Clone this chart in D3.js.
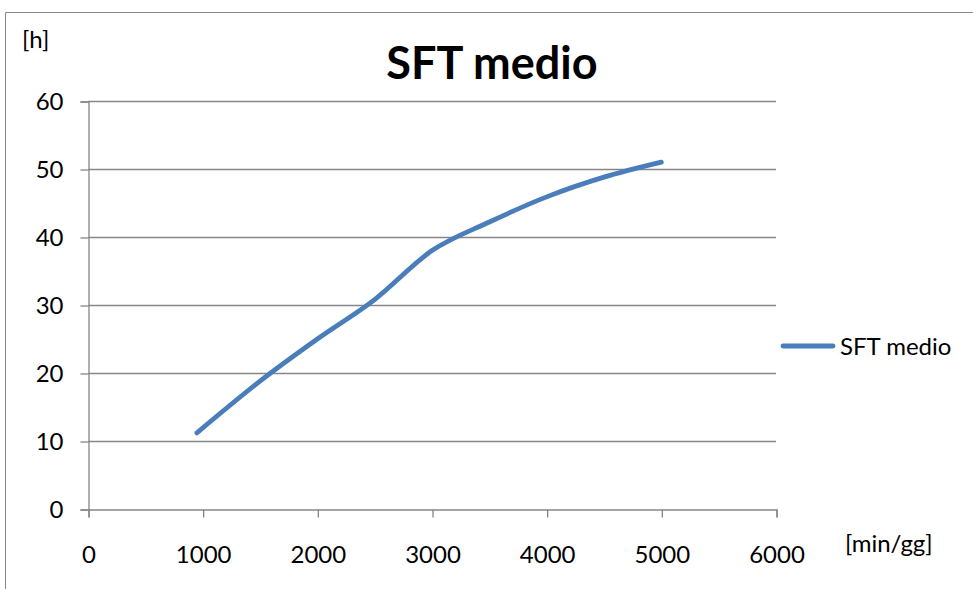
<!DOCTYPE html>
<html>
<head>
<meta charset="utf-8">
<script src="https://cdn.jsdelivr.net/npm/d3@7"></script>
<style>
  html, body { margin: 0; padding: 0; background: #fff; }
  svg { display: block; }
  text { font-family: Lato, "Open Sans", sans-serif; fill: #000; }
</style>
</head>
<body>
<svg id="chart" width="973" height="589"></svg>
<script>
// Mean SFT (hours) against workload (min/day)
const seriesName = "SFT medio";
const minutesPerDay = [950, 1500, 2000, 2500, 3000, 3500, 4000, 4500, 5000];
const sftHours = [11.2, 18.8, 25.0, 30.8, 38.0, 42.2, 45.9, 48.8, 51.0];
const xTicks = [0, 1000, 2000, 3000, 4000, 5000, 6000];
const yTicks = [0, 10, 20, 30, 40, 50, 60];

const svg = d3.select("#chart");
const gridColor = "#868686";
const lineColor = "#4a7ebb";
const labelSize = "24px";

// outer chart frame
svg.append("path")
  .attr("d", "M5.5,589 L5.5,12.5 L973,12.5")
  .attr("fill", "none")
  .attr("stroke", gridColor)
  .attr("stroke-width", 1);

const plot = { left: 88, right: 776, top: 101, bottom: 509 };
const x = d3.scaleLinear().domain([0, 6000]).range([plot.left, plot.right]);
const y = d3.scaleLinear().domain([0, 60]).range([plot.bottom, plot.top]);

// horizontal gridlines
svg.append("g")
  .selectAll("line")
  .data(yTicks.filter(v => v > 0))
  .join("line")
  .attr("x1", plot.left).attr("x2", plot.right)
  .attr("y1", d => y(d) + 0.5).attr("y2", d => y(d) + 0.5)
  .attr("stroke", gridColor).attr("stroke-width", 1.3);

// y axis
const yAxis = svg.append("g")
  .attr("transform", `translate(${plot.left + 0.5},0.5)`)
  .call(d3.axisLeft(y).tickValues(yTicks).tickSize(8).tickPadding(17).tickFormat(d3.format("d")));
yAxis.select(".domain").attr("stroke", gridColor).attr("stroke-width", 1.3);
yAxis.selectAll(".tick line").attr("stroke", gridColor).attr("stroke-width", 1.3);
yAxis.selectAll(".tick text").style("font-size", labelSize).style("font-family", "Lato, sans-serif").attr("fill", "#000");

// x axis
const xAxis = svg.append("g")
  .attr("transform", `translate(0.5,${plot.bottom + 0.5})`)
  .call(d3.axisBottom(x).tickValues(xTicks).tickSize(8).tickPadding(28).tickFormat(d3.format("d")));
xAxis.select(".domain").attr("stroke", gridColor).attr("stroke-width", 1.3);
xAxis.selectAll(".tick line").attr("stroke", gridColor).attr("stroke-width", 1.3);
xAxis.selectAll(".tick text").style("font-size", labelSize).style("font-family", "Lato, sans-serif").attr("fill", "#000");

// data line, smoothed
const line = d3.line()
  .x((d, i) => x(minutesPerDay[i]))
  .y(d => y(d))
  .curve(d3.curveCardinal.tension(0));
svg.append("path")
  .datum(sftHours)
  .attr("d", line)
  .attr("fill", "none")
  .attr("stroke", lineColor)
  .attr("stroke-width", 4.8)
  .attr("stroke-linecap", "round")
  .attr("stroke-linejoin", "round");

// title
svg.append("text")
  .attr("x", 492).attr("y", 79)
  .attr("text-anchor", "middle")
  .style("font-size", "45px").style("font-weight", "bold")
  .text("SFT medio");

// axis unit labels
svg.append("text")
  .attr("x", 22).attr("y", 48)
  .style("font-size", labelSize)
  .text("[h]");
svg.append("text")
  .attr("x", 845).attr("y", 552)
  .style("font-size", labelSize)
  .text("[min/gg]");

// legend
svg.append("line")
  .attr("x1", 783).attr("x2", 833)
  .attr("y1", 346).attr("y2", 346)
  .attr("stroke", lineColor).attr("stroke-width", 4.8)
  .attr("stroke-linecap", "round");
svg.append("text")
  .attr("x", 840).attr("y", 355)
  .style("font-size", labelSize)
  .text(seriesName);
</script>
</body>
</html>
